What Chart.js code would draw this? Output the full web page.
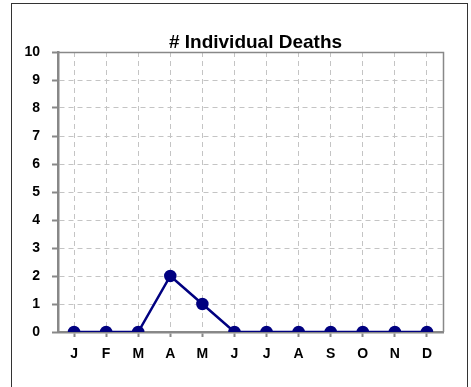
<!DOCTYPE html>
<html>
<head>
<meta charset="utf-8">
<script src="https://cdn.jsdelivr.net/npm/chart.js@4/dist/chart.umd.min.js"></script>
<style>
  html,body{margin:0;padding:0;background:#fff;overflow:hidden}
  #wrap{position:relative;width:471px;height:387px}
  #frame{position:absolute;left:11px;top:3px;width:455px;height:400px;border:1px solid #333;border-bottom:none;pointer-events:none}
  canvas{position:absolute;left:0;top:0}
</style>
</head>
<body>
<div id="wrap">
  <canvas id="c" width="471" height="387"></canvas>
  <div id="frame"></div>
</div>
<script>
'use strict';
const months=['J','F','M','A','M','J','J','A','S','O','N','D'];
const deaths=[0,0,0,2,1,0,0,0,0,0,0,0];
const chartTitle='# Individual Deaths';
const yMin=0,yMax=10,yStep=1;

const FONT='"Liberation Sans", Arial, sans-serif';
const AXIS='#888',GRID='#c4c4c4',NAVY='#000080';

// title, solid top/right edges of the plot box, and a hard clip so
// markers sitting on zero are cut by the axis
const decor={
  id:'decor',
  beforeDatasetsDraw(ch){
    const a=ch.chartArea,ctx=ch.ctx;
    ctx.save();
    ctx.strokeStyle=AXIS;ctx.lineWidth=1.5;
    ctx.beginPath();
    ctx.moveTo(a.left,a.top+0.5);ctx.lineTo(a.right+0.5,a.top+0.5);ctx.lineTo(a.right+0.5,a.bottom);
    ctx.stroke();
    ctx.restore();
    ctx.save();
    ctx.beginPath();
    ctx.rect(a.left,a.top-10,a.right-a.left,a.bottom-a.top+10);
    ctx.clip();
  },
  afterDatasetsDraw(ch){
    ch.ctx.restore();
  },
  afterDraw(ch){
    const ctx=ch.ctx;
    ctx.save();
    ctx.font='bold 19px '+FONT;
    ctx.fillStyle='#000';ctx.textAlign='center';ctx.textBaseline='alphabetic';
    ctx.fillText(chartTitle,255.5,47.5);
    ctx.restore();
  }
};

new Chart(document.getElementById('c'),{
  type:'line',
  data:{labels:months,datasets:[{
    data:deaths,borderColor:NAVY,backgroundColor:NAVY,borderWidth:2.5,
    pointRadius:5,pointHoverRadius:5,pointBackgroundColor:NAVY,pointBorderColor:NAVY,
    tension:0,clip:0
  }]},
  options:{
    responsive:false,animation:false,
    layout:{padding:{top:52,right:28,left:0,bottom:0}},
    plugins:{legend:{display:false},tooltip:{enabled:false},title:{display:false}},
    scales:{
      x:{
        offset:true,
        afterFit:s=>{s.height=55;},
        grid:{offset:false,color:GRID,lineWidth:1,tickLength:5,tickColor:AXIS,tickWidth:2},
        border:{color:AXIS,width:2.5,dash:[5,4]},
        ticks:{color:'#000',font:{family:FONT,size:14,weight:'bold'},padding:9,maxRotation:0,autoSkip:false}
      },
      y:{
        min:yMin,max:yMax,
        afterFit:s=>{s.width=58;},
        grid:{color:GRID,lineWidth:1,tickLength:6,tickColor:AXIS,tickWidth:2},
        border:{color:AXIS,width:2.5,dash:[5,4]},
        ticks:{stepSize:yStep,color:'#000',font:{family:FONT,size:14,weight:'bold'},padding:12}
      }
    }
  },
  plugins:[decor]
});
</script>
</body>
</html>
